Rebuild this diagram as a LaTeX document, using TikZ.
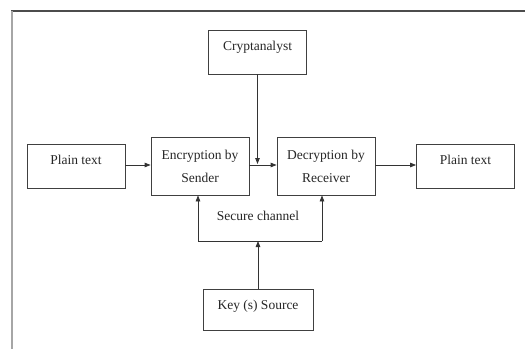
\documentclass[tikz,border=0pt]{standalone}
\usepackage{fontspec}
\setmainfont{Liberation Serif}
\usepackage{tikz}
\usetikzlibrary{positioning,arrows.meta}

\begin{document}
\begin{tikzpicture}[x=1pt, y=-1pt,
    box/.style={draw=black!75, line width=0.8pt, rectangle, minimum width=98pt, inner ysep=0pt,
      font=\fontsize{13.5pt}{23pt}\selectfont, text=black!85},
    onebox/.style={box, text height=20pt, text depth=24pt},
    twobox/.style={box, align=center, minimum height=58pt},
    arr/.style={draw=black!80, line width=0.8pt, -{Triangle[length=6pt,width=4.5pt]}},
    lin/.style={draw=black!80, line width=0.8pt}]
  \useasboundingbox (0,0) rectangle (525,349);
  % cornice
  \draw[black!70, line width=1.3pt] (11,11) -- (525,11);
  \draw[black!35, line width=1.8pt] (12,11) -- (12,349);

  % blocchi
  \node[onebox] (crypt) at (257.5,52) {Cryptanalyst};
  \node[onebox] (plainL) at (76,166.5) {Plain text};
  \node[twobox] (enc) at (200,166) {Encryption by\\Sender};
  \node[twobox] (dec) at (326,166) {Decryption by\\Receiver};
  \node[onebox] (plainR) at (465.5,166) {Plain text};
  \node[onebox, minimum width=110pt, text depth=21pt] (key) at (258,309.5) {Key (s) Source};

  % frecce principali
  \draw[arr] (plainL.east |- 0,165) -- (enc.west |- 0,165);
  \draw[arr] (enc.east |- 0,165) -- (dec.west |- 0,165);
  \draw[arr] (dec.east |- 0,165) -- (plainR.west |- 0,165);
  \draw[arr] (crypt.south) -- (crypt.south |- 0,164);

  % canale sicuro
  \coordinate (chl) at (198,241);
  \coordinate (chr) at (322,241);
  \draw[lin] (chl) -- (chr);
  \draw[arr] (chl) -- (chl |- enc.south);
  \draw[arr] (chr) -- (chr |- dec.south);
  \draw[arr] (key.north) -- (key.north |- chl);
  \node[font=\fontsize{13.5pt}{16pt}\selectfont, text=black!85] (sc) at (258,216) {Secure channel};
\end{tikzpicture}
\end{document}
